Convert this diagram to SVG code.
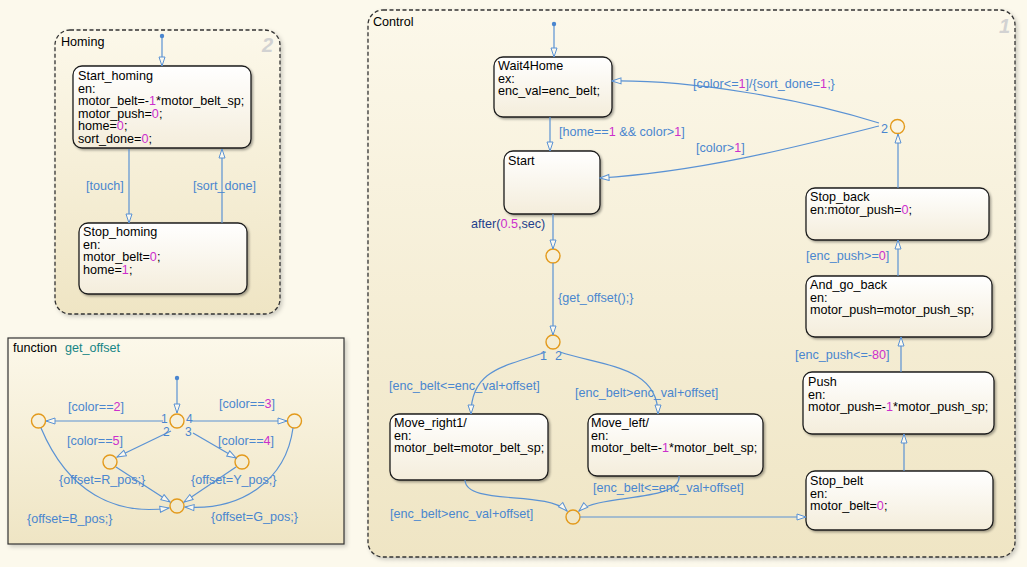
<svg xmlns="http://www.w3.org/2000/svg" width="1027" height="567" viewBox="0 0 1027 567">
<defs>
<linearGradient id="boxg" x1="0" y1="0" x2="0" y2="1">
<stop offset="0" stop-color="#fcf8ea"/>
<stop offset="1" stop-color="#efe5c4"/>
</linearGradient>
<linearGradient id="stg" x1="0" y1="0" x2="0" y2="1">
<stop offset="0" stop-color="#ffffff"/>
<stop offset="1" stop-color="#f4eddb"/>
</linearGradient>
<filter id="sh" x="-5%" y="-5%" width="115%" height="115%">
<feDropShadow dx="1.5" dy="1.5" stdDeviation="1" flood-color="#000" flood-opacity="0.35"/>
</filter>
<filter id="bsh" x="-5%" y="-5%" width="115%" height="115%">
<feDropShadow dx="2" dy="2" stdDeviation="2" flood-color="#000" flood-opacity="0.2"/>
</filter>
<marker id="ah" markerUnits="userSpaceOnUse" markerWidth="11" markerHeight="8" viewBox="0 0 11 8" refX="10" refY="4" orient="auto">
<path d="M1,1 L10,4 L1,7 Z" fill="#fbf8ee" stroke="#5a92d4" stroke-width="1"/>
</marker>
<marker id="dot" markerUnits="userSpaceOnUse" markerWidth="6" markerHeight="6" viewBox="0 0 6 6" refX="3" refY="3">
<circle cx="3" cy="3" r="2.2" fill="#4a86cf"/>
</marker>
</defs>
<style>
text{font-family:"Liberation Sans",Arial,sans-serif;font-size:12.6px}
.st{fill:#000}
.tl{fill:#4a86cf}
.n{fill:#cc2fcc}
.dg{font-size:12px}
.big{font-size:20px;font-weight:bold;font-style:italic;fill:#d2d2d2}
.box{fill:url(#boxg);stroke:#333;stroke-width:1.3;stroke-dasharray:4 2.5;filter:url(#bsh)}
.state{fill:url(#stg);stroke:#1c1c1c;stroke-width:1.3;filter:url(#sh)}
.tr{fill:none;stroke:#5a92d4;stroke-width:1.2;marker-end:url(#ah)}
.jn{fill:none;stroke:#e39a1c;stroke-width:1.4}
</style>
<rect x="0" y="0" width="1027" height="567" fill="#fcf9ec"/>

<!-- Homing -->
<g id="homing">
<rect class="box" x="55" y="30" width="225" height="284" rx="15"/>
<text class="st" x="61" y="46">Homing</text>
<text class="big" x="262" y="52">2</text>
</g>
<g id="start_homing">
<rect class="state" x="73" y="66" width="178" height="82" rx="9"/>
<text class="st" x="78" y="80">Start_homing</text>
<text class="st" x="78" y="92.5">en:</text>
<text class="st" x="78" y="105">motor_belt=-<tspan class="n">1</tspan>*motor_belt_sp;</text>
<text class="st" x="78" y="117.5">motor_push=<tspan class="n">0</tspan>;</text>
<text class="st" x="78" y="130">home=<tspan class="n">0</tspan>;</text>
<text class="st" x="78" y="142.5">sort_done=<tspan class="n">0</tspan>;</text>
</g>
<g id="stop_homing">
<rect class="state" x="79" y="223" width="168" height="71" rx="9"/>
<text class="st" x="83" y="236">Stop_homing</text>
<text class="st" x="83" y="248.5">en:</text>
<text class="st" x="83" y="261">motor_belt=<tspan class="n">0</tspan>;</text>
<text class="st" x="83" y="273.5">home=<tspan class="n">1</tspan>;</text>
</g>

<!-- function get_offset -->
<g id="get_offset">
<rect x="8" y="338" width="336" height="206" fill="url(#boxg)" stroke="#333" stroke-width="1.2" filter="url(#bsh)"/>
<text class="st" x="13" y="352" fill="#1a1a2a">function</text>
<text x="65" y="352" fill="#178585">get_offset</text>
</g>
<g id="fj_center"><circle class="jn" cx="177" cy="421" r="7"/></g>
<g id="fj_left"><circle class="jn" cx="38.5" cy="421" r="7"/></g>
<g id="fj_right"><circle class="jn" cx="294.5" cy="421" r="7"/></g>
<g id="fj_midleft"><circle class="jn" cx="110" cy="462" r="7"/></g>
<g id="fj_midright"><circle class="jn" cx="242" cy="462" r="7"/></g>
<g id="fj_bottom"><circle class="jn" cx="177" cy="506" r="7"/></g>

<!-- Control -->
<g id="control">
<rect class="box" x="368" y="10" width="647" height="547" rx="15"/>
<text class="st" x="373" y="26">Control</text>
<text class="big" x="999" y="33">1</text>
</g>
<g id="wait4home">
<rect class="state" x="494" y="57" width="118" height="60" rx="9"/>
<text class="st" x="498" y="70">Wait4Home</text>
<text class="st" x="498" y="82.5">ex:</text>
<text class="st" x="498" y="95">enc_val=enc_belt;</text>
</g>
<g id="start">
<rect class="state" x="504" y="151" width="96" height="63" rx="9"/>
<text class="st" x="508" y="165">Start</text>
</g>
<g id="move_right1">
<rect class="state" x="390" y="414" width="158" height="66" rx="9"/>
<text class="st" x="394" y="427">Move_right1/</text>
<text class="st" x="394" y="439.5">en:</text>
<text class="st" x="394" y="452">motor_belt=motor_belt_sp;</text>
</g>
<g id="move_left">
<rect class="state" x="588" y="414" width="175" height="62" rx="9"/>
<text class="st" x="591" y="427">Move_left/</text>
<text class="st" x="591" y="439.5">en:</text>
<text class="st" x="591" y="452">motor_belt=-<tspan class="n">1</tspan>*motor_belt_sp;</text>
</g>
<g id="stop_belt">
<rect class="state" x="806" y="471" width="187" height="59" rx="9"/>
<text class="st" x="810" y="485">Stop_belt</text>
<text class="st" x="810" y="497.5">en:</text>
<text class="st" x="810" y="510">motor_belt=<tspan class="n">0</tspan>;</text>
</g>
<g id="push">
<rect class="state" x="803" y="372" width="191" height="62" rx="9"/>
<text class="st" x="808" y="386">Push</text>
<text class="st" x="808" y="398.5">en:</text>
<text class="st" x="808" y="411">motor_push=-<tspan class="n">1</tspan>*motor_push_sp;</text>
</g>
<g id="and_go_back">
<rect class="state" x="806" y="276" width="186" height="61" rx="9"/>
<text class="st" x="810" y="289">And_go_back</text>
<text class="st" x="810" y="301.5">en:</text>
<text class="st" x="810" y="314">motor_push=motor_push_sp;</text>
</g>
<g id="stop_back">
<rect class="state" x="806" y="188" width="183" height="52" rx="9"/>
<text class="st" x="810" y="201">Stop_back</text>
<text class="st" x="810" y="213.5">en:motor_push=<tspan class="n">0</tspan>;</text>
</g>
<g id="cj_after"><circle class="jn" cx="553" cy="256" r="7"/></g>
<g id="cj_split"><circle class="jn" cx="553" cy="342" r="7"/></g>
<g id="cj_merge"><circle class="jn" cx="573" cy="517" r="7"/></g>
<g id="cj_back"><circle class="jn" cx="897.5" cy="126.5" r="7"/></g>

<!-- connectors -->
<g id="connectors">
<!-- Homing -->
<path class="tr" d="M162,36 L162,66" marker-start="url(#dot)"/>
<path class="tr" d="M129,149 L129,223"/>
<path class="tr" d="M222,223 L222,149"/>
<text class="tl" x="86" y="190">[touch]</text>
<text class="tl" x="193" y="190">[sort_done]</text>

<!-- get_offset -->
<path class="tr" d="M177,378 L177,413" marker-start="url(#dot)"/>
<path class="tr" d="M163,421 L46,421"/>
<path class="tr" d="M191,421 L287,421"/>
<path class="tr" d="M171,431 L117,457"/>
<path class="tr" d="M193,433 L236,458"/>
<path class="tr" d="M116,467 L170,502"/>
<path class="tr" d="M236,467 L184,502"/>
<path class="tr" d="M41,428 C 68,492 115,516 169,508"/>
<path class="tr" d="M293,428 C 286,480 242,511 185,507"/>
<text class="tl" x="68" y="411">[color==<tspan class="n">2</tspan>]</text>
<text class="tl" x="219" y="408">[color==<tspan class="n">3</tspan>]</text>
<text class="tl" x="67" y="445">[color==<tspan class="n">5</tspan>]</text>
<text class="tl" x="218" y="445">[color==<tspan class="n">4</tspan>]</text>
<text class="tl" x="59" y="484">{offset=R_pos;}</text>
<text class="tl" x="191" y="484">{offset=Y_pos;}</text>
<text class="tl" x="27" y="523">{offset=B_pos;}</text>
<text class="tl" x="211" y="521">{offset=G_pos;}</text>
<text class="tl dg" x="161" y="423">1</text>
<text class="tl dg" x="163" y="435.5">2</text>
<text class="tl dg" x="186" y="423">4</text>
<text class="tl dg" x="185" y="435.5">3</text>

<!-- Control -->
<path class="tr" d="M554,24 L554,57" marker-start="url(#dot)"/>
<path class="tr" d="M550,117 L550,151"/>
<text class="tl" x="559" y="136">[home==<tspan class="n">1</tspan> &amp;&amp; color&gt;<tspan class="n">1</tspan>]</text>
<path class="tr" d="M553,214 L553,249"/>
<text x="471" y="228" fill="#1f3f8c">after(<tspan class="n">0.5</tspan>,sec)</text>
<path class="tr" d="M553,263 L553,335"/>
<text class="tl" x="558" y="302">{get_offset();}</text>
<text class="tl" x="540" y="360">1</text>
<text class="tl" x="555" y="360">2</text>
<path class="tr" d="M546,352 C 508,366 471,368 471,414"/>
<path class="tr" d="M560,352 C 602,366 658,366 658,414"/>
<text class="tl" x="389" y="390">[enc_belt&lt;=enc_val+offset]</text>
<text class="tl" x="575" y="397">[enc_belt&gt;enc_val+offset]</text>
<path class="tr" d="M465,480 C 466,506 546,490 567,511"/>
<path class="tr" d="M679,476 C 682,502 598,494 579,511"/>
<text class="tl" x="390" y="518">[enc_belt&gt;enc_val+offset]</text>
<text class="tl" x="593" y="492">[enc_belt&lt;=enc_val+offset]</text>
<path class="tr" d="M580,517 L806,517"/>
<path class="tr" d="M904,471 L904,434"/>
<path class="tr" d="M901,372 L901,337"/>
<text class="tl" x="795" y="359">[enc_push&lt;=-<tspan class="n">80</tspan>]</text>
<path class="tr" d="M898,276 L898,240"/>
<text class="tl" x="806" y="260">[enc_push&gt;=<tspan class="n">0</tspan>]</text>
<path class="tr" d="M898,188 L898,134"/>
<text class="tl" x="881" y="133">2</text>
<path class="tr" d="M879,123 C 800,98 690,80 612,81"/>
<path class="tr" d="M879,126 C 800,146 700,172 600,178"/>
<text class="tl" x="693" y="88">[color&lt;=<tspan class="n">1</tspan>]/{sort_done=<tspan class="n">1</tspan>;}</text>
<text class="tl" x="696" y="152">[color&gt;<tspan class="n">1</tspan>]</text>
</g>
</svg>
